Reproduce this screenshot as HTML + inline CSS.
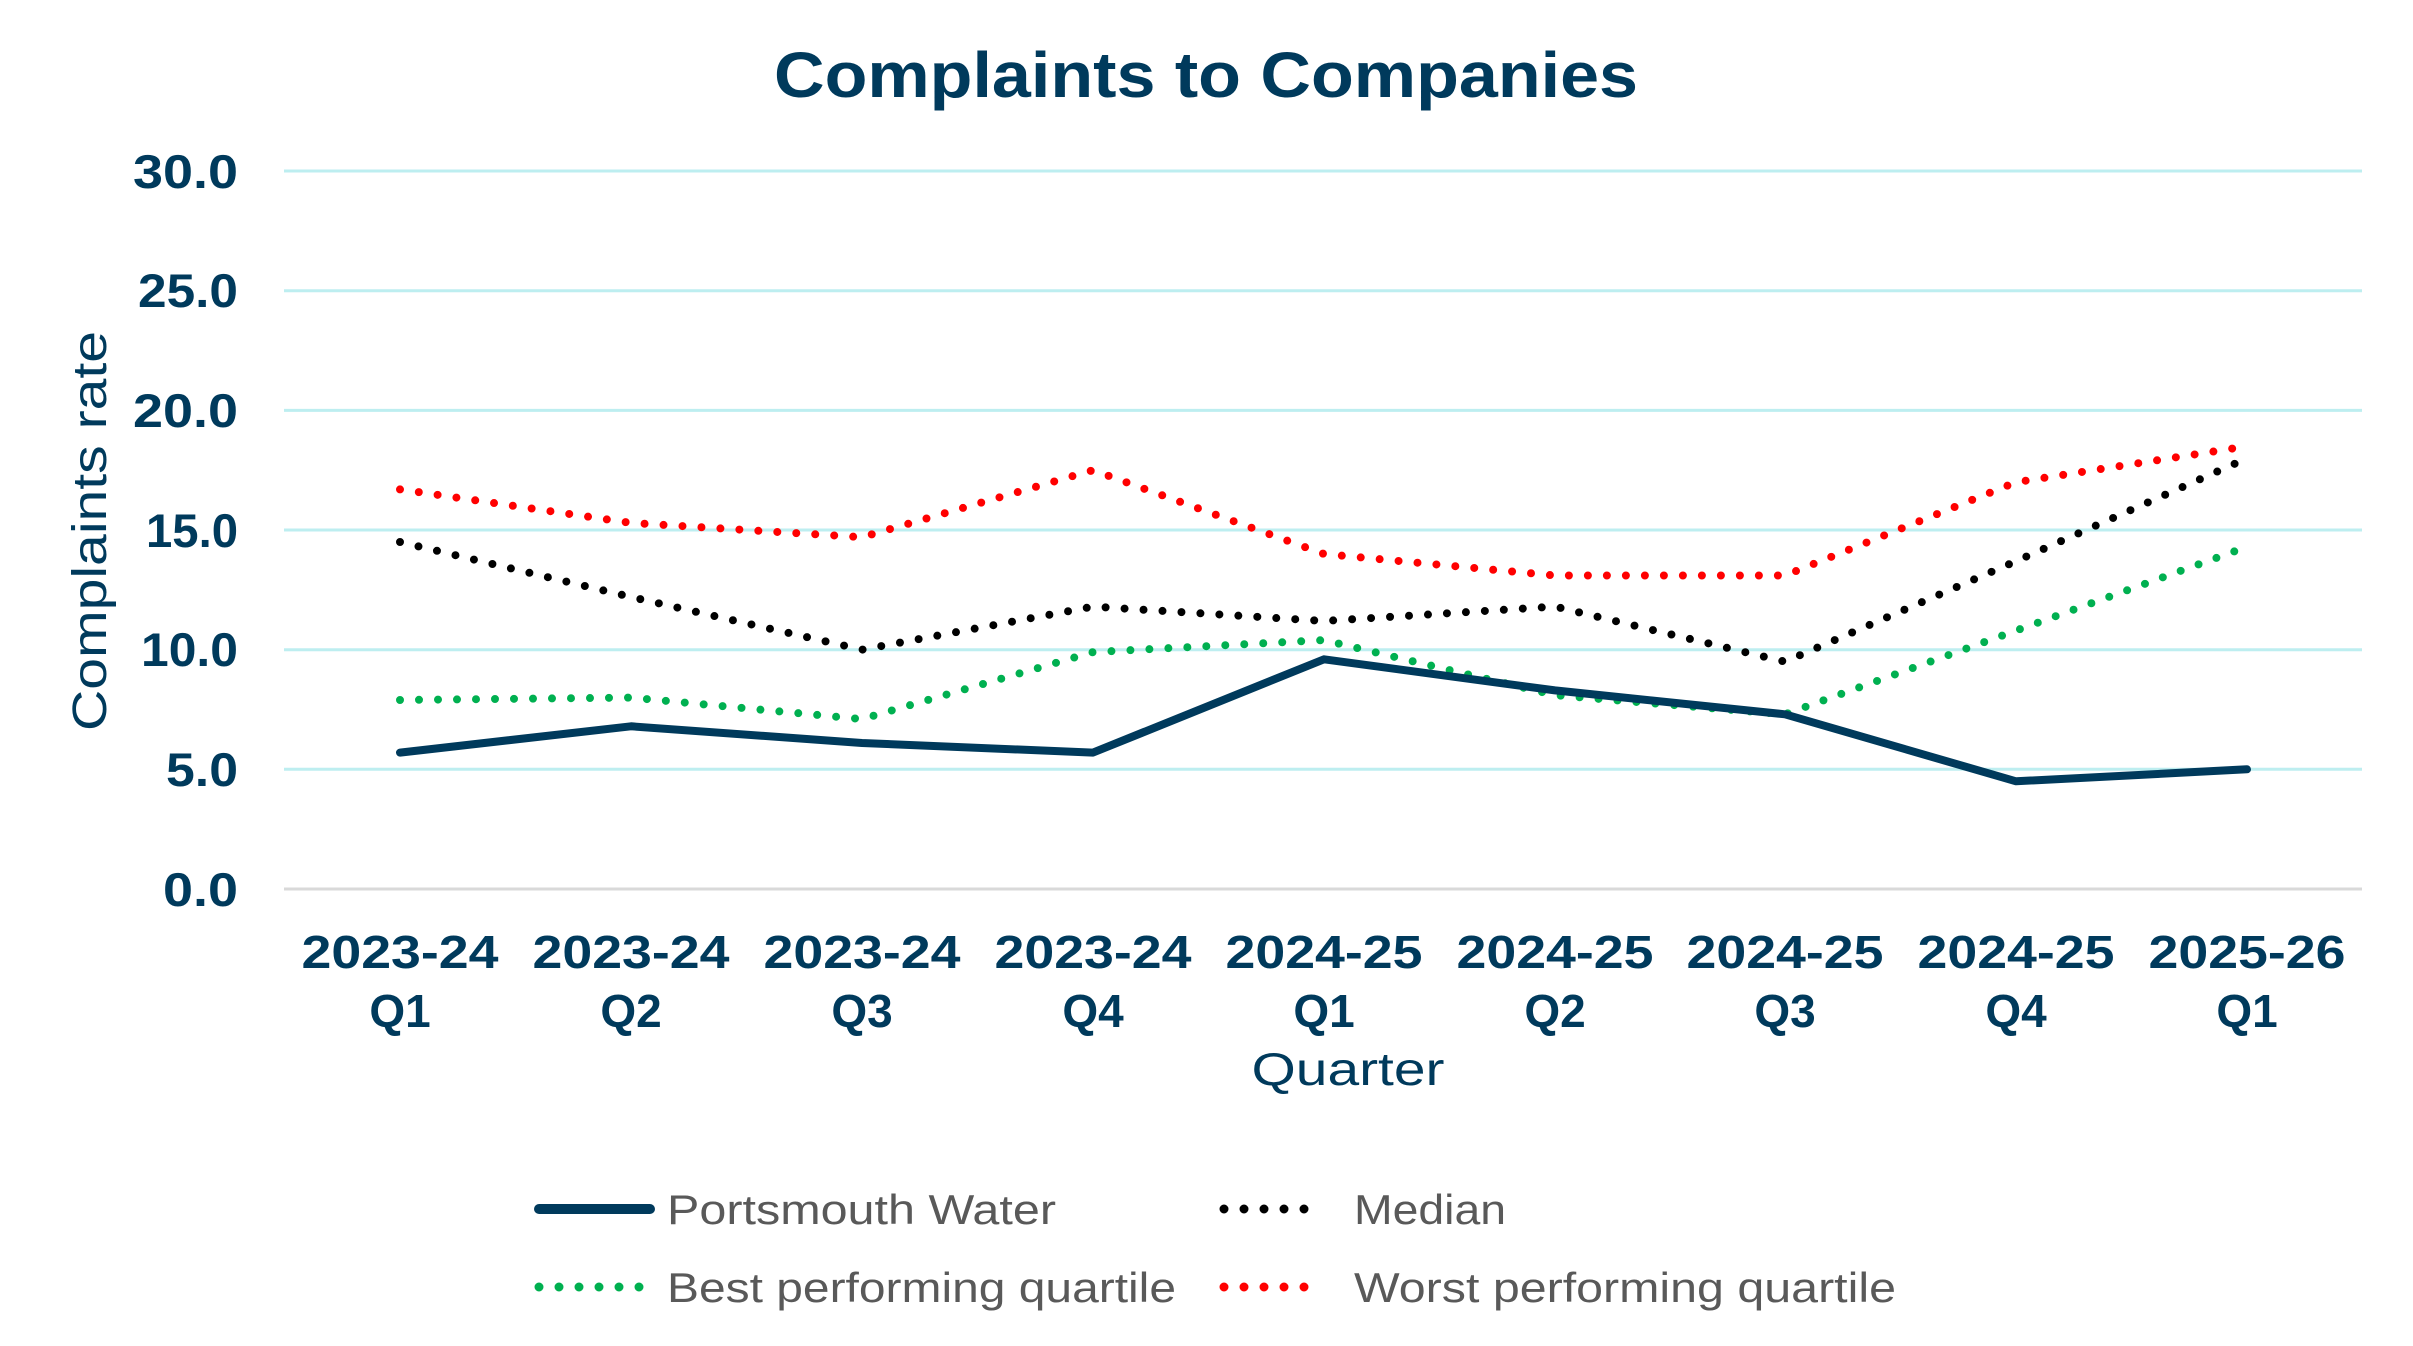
<!DOCTYPE html>
<html><head><meta charset="utf-8"><style>
html,body{margin:0;padding:0;background:#fff;}
svg{display:block;}
text{font-family:"Liberation Sans",sans-serif;}
</style></head><body>
<svg width="2413" height="1346" viewBox="0 0 2413 1346" xmlns="http://www.w3.org/2000/svg">
<rect width="2413" height="1346" fill="#fff"/>
<text x="1206" y="97" text-anchor="middle" font-size="64" font-weight="bold" fill="#003a5c" textLength="864" lengthAdjust="spacingAndGlyphs">Complaints to Companies</text>
<g stroke="#bdeef0" stroke-width="3">
<line x1="284" x2="2362" y1="171" y2="171"/>
<line x1="284" x2="2362" y1="290.7" y2="290.7"/>
<line x1="284" x2="2362" y1="410.4" y2="410.4"/>
<line x1="284" x2="2362" y1="530" y2="530"/>
<line x1="284" x2="2362" y1="649.7" y2="649.7"/>
<line x1="284" x2="2362" y1="769.3" y2="769.3"/>
</g>
<line x1="284" x2="2362" y1="889" y2="889" stroke="#d9d9d9" stroke-width="3"/>
<g font-size="47" font-weight="bold" fill="#003a5c" text-anchor="end" lengthAdjust="spacingAndGlyphs">
<text x="238" y="188" textLength="105" lengthAdjust="spacingAndGlyphs">30.0</text>
<text x="238" y="307" textLength="100" lengthAdjust="spacingAndGlyphs">25.0</text>
<text x="238" y="427" textLength="105" lengthAdjust="spacingAndGlyphs">20.0</text>
<text x="238" y="547" textLength="92" lengthAdjust="spacingAndGlyphs">15.0</text>
<text x="238" y="666" textLength="97" lengthAdjust="spacingAndGlyphs">10.0</text>
<text x="238" y="786" textLength="72" lengthAdjust="spacingAndGlyphs">5.0</text>
<text x="238" y="906" textLength="75" lengthAdjust="spacingAndGlyphs">0.0</text>
</g>
<text transform="translate(106,531) rotate(-90)" text-anchor="middle" font-size="48" fill="#003a5c" textLength="400" lengthAdjust="spacingAndGlyphs">Complaints rate</text>
<g font-size="46" font-weight="bold" fill="#003a5c" text-anchor="middle">
<text x="400" y="968" textLength="197" lengthAdjust="spacingAndGlyphs">2023-24</text><text x="400" y="1027">Q1</text>
<text x="631" y="968" textLength="197" lengthAdjust="spacingAndGlyphs">2023-24</text><text x="631" y="1027">Q2</text>
<text x="862" y="968" textLength="197" lengthAdjust="spacingAndGlyphs">2023-24</text><text x="862" y="1027">Q3</text>
<text x="1093" y="968" textLength="197" lengthAdjust="spacingAndGlyphs">2023-24</text><text x="1093" y="1027">Q4</text>
<text x="1324" y="968" textLength="197" lengthAdjust="spacingAndGlyphs">2024-25</text><text x="1324" y="1027">Q1</text>
<text x="1555" y="968" textLength="197" lengthAdjust="spacingAndGlyphs">2024-25</text><text x="1555" y="1027">Q2</text>
<text x="1785" y="968" textLength="197" lengthAdjust="spacingAndGlyphs">2024-25</text><text x="1785" y="1027">Q3</text>
<text x="2016" y="968" textLength="197" lengthAdjust="spacingAndGlyphs">2024-25</text><text x="2016" y="1027">Q4</text>
<text x="2247" y="968" textLength="197" lengthAdjust="spacingAndGlyphs">2025-26</text><text x="2247" y="1027">Q1</text>
</g>
<text x="1348" y="1085" text-anchor="middle" font-size="46" fill="#003a5c" textLength="193" lengthAdjust="spacingAndGlyphs">Quarter</text>
<g fill="none" stroke-linecap="round" stroke-linejoin="round">
<polyline stroke="#ff0000" stroke-width="8" stroke-dasharray="0 19" points="400,489.4 631,522.9 862,537.2 1093,470.2 1324,554.0 1555,575.5 1785,575.5 2016,482.2 2247,446.3"/>
<polyline stroke="#000000" stroke-width="8" stroke-dasharray="0 19" points="400,542.0 631,597.0 862,649.7 1093,606.6 1324,621.0 1555,606.6 1785,661.7 2016,561.2 2247,458.3"/>
<polyline stroke="#00b050" stroke-width="8" stroke-dasharray="0 19" points="400,700.0 631,697.6 862,719.1 1093,652.1 1324,640.1 1555,695.2 1785,714.3 2016,630.6 2247,546.8"/>
<polyline stroke="#003a5c" stroke-width="8" points="400,752.6 631,726.3 862,743.0 1093,752.6 1324,659.3 1555,690.4 1785,714.3 2016,781.3 2247,769.3"/>
</g>
<g stroke-linecap="round">
<line x1="539" x2="650" y1="1209" y2="1209" stroke="#003a5c" stroke-width="10"/>
<line x1="1224" x2="1324" y1="1209" y2="1209" stroke="#000" stroke-width="9" stroke-dasharray="0 20"/>
<line x1="539" x2="640" y1="1287" y2="1287" stroke="#00b050" stroke-width="9" stroke-dasharray="0 20"/>
<line x1="1224" x2="1324" y1="1287" y2="1287" stroke="#ff0000" stroke-width="9" stroke-dasharray="0 20"/>
</g>
<g font-size="42" fill="#595959">
<text x="667" y="1224" textLength="389" lengthAdjust="spacingAndGlyphs">Portsmouth Water</text>
<text x="1354" y="1224" textLength="152" lengthAdjust="spacingAndGlyphs">Median</text>
<text x="667" y="1302" textLength="509" lengthAdjust="spacingAndGlyphs">Best performing quartile</text>
<text x="1354" y="1302" textLength="542" lengthAdjust="spacingAndGlyphs">Worst performing quartile</text>
</g>
</svg>
</body></html>
